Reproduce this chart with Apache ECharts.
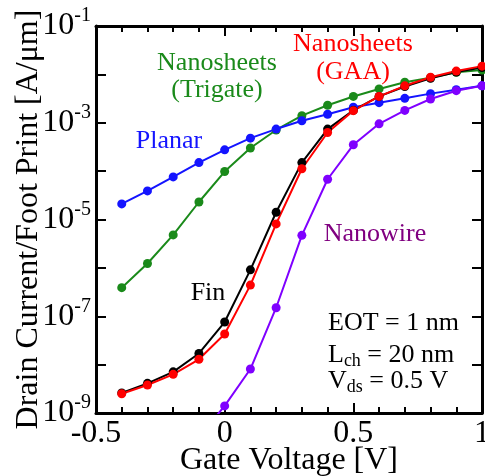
<!DOCTYPE html>
<html>
<head>
<meta charset="utf-8">
<script src="https://cdn.jsdelivr.net/npm/echarts@6/dist/echarts.min.js"></script>
<style>html,body{margin:0;padding:0;background:#fff}#c{width:485px;height:476px}</style>
</head>
<body>
<div id="c"></div>
<script>
const voltage = [-0.4, -0.3, -0.2, -0.1, 0, 0.1, 0.2, 0.3, 0.4, 0.5, 0.6, 0.7, 0.8, 0.9, 1.0];
const planar = [2.1e-5, 3.9e-5, 7.6e-5, 1.5e-4, 2.75e-4, 4.8e-4, 7.4e-4, 1.1e-3, 1.5e-3, 2.1e-3, 2.6e-3, 3.2e-3, 4.0e-3, 4.8e-3, 5.8e-3];
const trigate = [3.9e-7, 1.23e-6, 4.8e-6, 2.3e-5, 9.8e-5, 3.0e-4, 7.1e-4, 1.4e-3, 2.3e-3, 3.5e-3, 5.0e-3, 6.9e-3, 8.5e-3, 1.1e-2, 1.23e-2];
const fin = [2.6e-9, 4.1e-9, 7.1e-9, 1.7e-8, 7.6e-8, 9.1e-7, 1.41e-5, 1.5e-4, 7.4e-4, 1.8e-3, 3.5e-3, 5.6e-3, 8.3e-3, 1.12e-2, 1.38e-2];
const gaa = [2.5e-9, 3.8e-9, 6.3e-9, 1.29e-8, 4.3e-8, 4.4e-7, 8.1e-6, 1.12e-4, 6.3e-4, 1.78e-3, 3.5e-3, 5.8e-3, 8.7e-3, 1.17e-2, 1.48e-2];
const nanowireVoltage = [-0.1, 0, 0.1, 0.2, 0.3, 0.4, 0.5, 0.6, 0.7, 0.8, 0.9, 1.0];
const nanowire = [3.2e-10, 1.4e-9, 8.1e-9, 1.5e-7, 4.7e-6, 6.8e-5, 3.5e-4, 9.5e-4, 1.8e-3, 3.1e-3, 4.6e-3, 5.8e-3];
const xTickLabels = ['-0.5', '0', '0.5', '1'];
const yLabelExponents = [-1, -3, -5, -7, -9];

const FONT = '"Liberation Serif", "Times New Roman", Times, serif';
const chart = echarts.init(document.getElementById('c'));

function pairs(xs, ys) { return xs.map((x, i) => [x, ys[i]]); }
function mkSeries(name, xs, ys, color) {
  return {
    name, type: 'line', data: pairs(xs, ys), clip: true,
    symbol: 'circle', symbolSize: 9, showSymbol: true,
    lineStyle: { color, width: 2 }, itemStyle: { color },
    animation: false, z: 3
  };
}

const axisLineStyle = { axisLine: { show: true, onZero: false, lineStyle: { color: '#000', width: 3 } } };

chart.setOption({
  animation: false,
  backgroundColor: '#fff',
  textStyle: { fontFamily: FONT },
  grid: { left: 96, right: 3, top: 26, bottom: 63, containLabel: false, outerBoundsMode: 'none' },
  xAxis: [{
    type: 'value', min: -0.5, max: 1, interval: 0.5, position: 'bottom',
    ...axisLineStyle,
    axisTick: { show: true, inside: true, length: 10, lineStyle: { color: '#000', width: 2 } },
    minorTick: { show: true, splitNumber: 5, length: 6, lineStyle: { color: '#000', width: 2 } },
    splitLine: { show: false },
    axisLabel: {
      margin: 5, color: '#000', fontFamily: FONT, fontSize: 32, hideOverlap: false,
      formatter: v => { const s = xTickLabels.find(t => Math.abs(parseFloat(t) - v) < 1e-9); return s || ''; }
    },
    name: 'Gate Voltage [V]', nameLocation: 'middle', nameGap: 32, nameMoveOverlap: false,
    nameTextStyle: { color: '#000', fontFamily: FONT, fontSize: 32 }
  }, {
    type: 'value', min: -0.5, max: 1, interval: 0.5, position: 'top',
    ...axisLineStyle,
    axisTick: { show: true, inside: true, length: 10, lineStyle: { color: '#000', width: 2 } },
    minorTick: { show: true, splitNumber: 5, length: 6, lineStyle: { color: '#000', width: 2 } },
    splitLine: { show: false }, axisLabel: { show: false }
  }],
  yAxis: [{
    type: 'log', logBase: 10, min: 1e-9, max: 1e-1, interval: 1, position: 'left',
    ...axisLineStyle,
    axisTick: { show: true, inside: true, length: 10, lineStyle: { color: '#000', width: 2 } },
    splitLine: { show: false },
    axisLabel: {
      margin: 5, color: '#000', fontFamily: FONT,
      formatter: v => {
        const e = Math.round(Math.log10(v));
        return yLabelExponents.indexOf(e) >= 0 ? '{b|10}{e|' + e + '}' : '';
      },
      rich: {
        b: { fontFamily: FONT, fontSize: 32, lineHeight: 32, color: '#000' },
        e: { fontFamily: FONT, fontSize: 20, lineHeight: 20, padding: [0, 0, 20, 0], color: '#000' }
      }
    },
    name: 'Drain Current/Foot Print [A/\u03bcm]', nameLocation: 'middle', nameGap: 51, nameMoveOverlap: false,
    nameTextStyle: { color: '#000', fontFamily: FONT, fontSize: 32 }
  }, {
    type: 'log', logBase: 10, min: 1e-9, max: 1e-1, interval: 1, position: 'right',
    ...axisLineStyle,
    axisTick: { show: true, inside: true, length: 10, lineStyle: { color: '#000', width: 2 } },
    splitLine: { show: false }, axisLabel: { show: false }
  }],
  series: [
    mkSeries('Nanosheets (Trigate)', voltage, trigate, '#1a8a1a'),
    mkSeries('Planar', voltage, planar, '#1414ff'),
    mkSeries('Nanowire', nanowireVoltage, nanowire, '#7f00ff'),
    mkSeries('Fin', voltage, fin, '#000000'),
    mkSeries('Nanosheets (GAA)', voltage, gaa, '#ff0000')
  ],
  graphic: [
    { type: 'text', x: 217, y: 77, z: 10, style: { text: 'Nanosheets\n(Trigate)', fill: '#1a8a1a', fontFamily: FONT, fontSize: 26, lineHeight: 27, align: 'center', verticalAlign: 'middle' } },
    { type: 'text', x: 353, y: 58, z: 10, style: { text: 'Nanosheets\n(GAA)', fill: '#ff0000', fontFamily: FONT, fontSize: 26, lineHeight: 28, align: 'center', verticalAlign: 'middle' } },
    { type: 'text', x: 169, y: 141, z: 10, style: { text: 'Planar', fill: '#1414ff', fontFamily: FONT, fontSize: 26, align: 'center', verticalAlign: 'middle' } },
    { type: 'text', x: 208, y: 293, z: 10, style: { text: 'Fin', fill: '#000', fontFamily: FONT, fontSize: 26, align: 'center', verticalAlign: 'middle' } },
    { type: 'text', x: 375, y: 234, z: 10, style: { text: 'Nanowire', fill: '#800080', fontFamily: FONT, fontSize: 26, align: 'center', verticalAlign: 'middle' } },
    { type: 'text', x: 328, y: 323, z: 10, style: { text: 'EOT = 1 nm', fill: '#000', fontFamily: FONT, fontSize: 26, align: 'left', verticalAlign: 'middle' } },
    { type: 'text', x: 328, y: 355, z: 10, style: {
      text: '{n|L}{s|ch}{n| = 20 nm}', fill: '#000', align: 'left', verticalAlign: 'middle',
      rich: { n: { fontFamily: FONT, fontSize: 26, lineHeight: 26, fill: '#000' }, s: { fontFamily: FONT, fontSize: 18, lineHeight: 18, padding: [12, 0, 0, 0], fill: '#000' } } } },
    { type: 'text', x: 328, y: 381, z: 10, style: {
      text: '{n|V}{s|ds}{n| = 0.5 V}', fill: '#000', align: 'left', verticalAlign: 'middle',
      rich: { n: { fontFamily: FONT, fontSize: 26, lineHeight: 26, fill: '#000' }, s: { fontFamily: FONT, fontSize: 18, lineHeight: 18, padding: [12, 0, 0, 0], fill: '#000' } } } }
  ]
});
</script>
</body>
</html>
